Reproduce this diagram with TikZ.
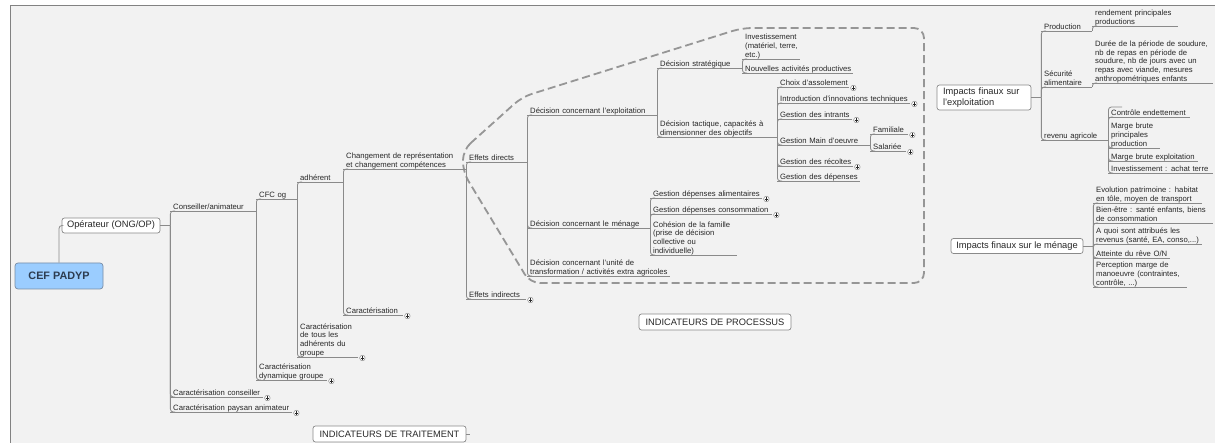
\documentclass[tikz,border=0pt]{standalone}
\usepackage{fontspec}
\setmainfont{Liberation Sans}
\usepackage{xcolor}
\usetikzlibrary{calc}

\definecolor{linegrey}{RGB}{138,138,138}
\definecolor{zonegrey}{RGB}{150,150,150}
\definecolor{textgrey}{RGB}{40,40,40}
\definecolor{bggrey}{RGB}{242,242,242}
\definecolor{framegrey}{RGB}{130,130,130}
\definecolor{rootblue}{RGB}{155,205,255}
\definecolor{rootedge}{RGB}{120,140,165}
\definecolor{roottext}{RGB}{45,60,80}

\newcommand{\topicfont}{\fontsize{7.7}{8.7}\selectfont}
\newcommand{\boxfont}{\fontsize{9.3}{10.3}\selectfont}

\begin{document}
\begin{tikzpicture}[x=1pt, y=-1pt,
    uline/.style={draw=linegrey, line width=0.8pt},
    link/.style={draw=linegrey, line width=0.8pt, rounded corners=3pt},
    zone/.style={draw=zonegrey, line width=1.8pt, dash pattern=on 8pt off 4pt, rounded corners=10pt},
    topic/.style={anchor=south west, inner xsep=0pt, inner ysep=0pt, text width=#1pt, align=left,
        font=\topicfont, text=textgrey, execute at end node={\rule[-1.2pt]{0pt}{1pt}},
        append after command={([xshift=-3pt]\tikzlastnode.south west) edge[uline] (\tikzlastnode.south east)}},
    box/.style={draw=linegrey, fill=white, rounded corners=2.5pt, line width=0.7pt, inner sep=0pt,
        font=\boxfont, text=textgrey},
    rootbox/.style={draw=rootedge, fill=rootblue, rounded corners=3pt, line width=0.7pt,
        minimum width=88pt, minimum height=26pt, font=\bfseries\fontsize{10.8}{12}\selectfont, text=roottext},
    plus/.style={circle, draw=linegrey, fill=white, line width=0.5pt, inner sep=0pt, minimum size=5.5pt,
        path picture={\draw[textgrey, line width=0.5pt]
            ([xshift=-1.6pt]path picture bounding box.center) -- ([xshift=1.6pt]path picture bounding box.center)
            ([yshift=-1.6pt]path picture bounding box.center) -- ([yshift=1.6pt]path picture bounding box.center);}}]

    \fill[white] (0,0) rectangle (1215,443);
    \useasboundingbox (0,0) rectangle (1215,443);
    \fill[bggrey] (10,5) rectangle (1215,443);
    \draw[framegrey, line width=0.8pt] (10,443) -- (10,5) -- (1215,5);

    \draw[zone] (463,150) -- (522,97) -- (742,28) -- (924,28) -- (924,283) -- (530,283) -- (463,172) -- cycle;

    \node[rootbox] (cef) at (59,276) {CEF PADYP};
    \node[box, minimum width=98pt, minimum height=15pt] (op) at (111,225.5) {Opérateur (ONG/OP)};
    \node[box, text width=82pt, inner xsep=6pt, minimum height=25pt, align=left] (impExpl) at (984,97.5) {Impacts finaux sur\\l'exploitation};
    \node[box, minimum width=132pt, minimum height=15pt] (impMen) at (1017,246) {Impacts finaux sur le ménage};
    \node[box, minimum width=152pt, minimum height=16pt] (proc) at (715,322) {INDICATEURS DE PROCESSUS};
    \node[box, minimum width=153pt, minimum height=16pt] (trait) at (389.5,434) {INDICATEURS DE TRAITEMENT};

    \node[topic=83] (cons) at (173,211) {Conseiller/animateur};
    \node[topic=90] (carCons) at (173,397) {Caractérisation conseiller};
    \node[topic=119] (carPay) at (173,412) {Caractérisation paysan animateur};
    \node[topic=38] (cfc) at (259,199) {CFC og};
    \node[topic=68] (carDyn) at (259,380) {Caractérisation\\dynamique groupe};
    \node[topic=43] (adh) at (300,182) {adhérent};
    \node[topic=58] (carTous) at (300,357) {Caractérisation\\de tous les\\adhérents du\\groupe};
    \node[topic=120] (chg) at (346,169) {Changement de représentation\\et changement compétences};
    \node[topic=57] (carAdh) at (346,315) {Caractérisation};
    \node[topic=58] (dir) at (469,162) {Effets directs};
    \node[topic=57] (indir) at (469,299) {Effets indirects};
    \node[topic=127] (expl) at (530,115) {Décision concernant l'exploitation};
    \node[topic=120] (men) at (530,228) {Décision concernant le ménage};
    \node[topic=140] (unite) at (530,276) {Décision concernant l'unité de\\transformation / activités extra agricoles};
    \node[topic=82] (strat) at (660,68) {Décision stratégique};
    \node[topic=117] (tact) at (660,137) {Décision tactique, capacités à\\dimensionner des objectifs};
    \node[topic=55] (invest) at (745,59) {Investissement\\(matériel, terre,\\etc.)};
    \node[topic=108] (nouv) at (745,73) {Nouvelles activités productives};
    \node[topic=69] (assol) at (780,87) {Choix d'assolement};
    \node[topic=130] (innov) at (780,103) {Introduction d'innovations techniques};
    \node[topic=72] (intr) at (780,119) {Gestion des intrants};
    \node[topic=90] (mo) at (780,145) {Gestion Main d'oeuvre};
    \node[topic=35] (fam) at (873,134) {Familiale};
    \node[topic=33] (sal) at (873,151) {Salariée};
    \node[topic=73] (recol) at (780,166) {Gestion des récoltes};
    \node[topic=80] (dep) at (780,181) {Gestion des dépenses};
    \node[topic=109] (alim) at (653,198) {Gestion dépenses alimentaires};
    \node[topic=119] (conso) at (653,214) {Gestion dépenses consommation};
    \node[topic=84] (cohes) at (653,255) {Cohésion de la famille\\(prise de décision\\collective ou\\individuelle)};
    \node[topic=48] (prod) at (1044,31) {Production};
    \node[topic=83] (rend) at (1095,26) {rendement principales\\productions};
    \node[topic=48] (secu) at (1044,87) {Sécurité\\alimentaire};
    \node[topic=118] (duree) at (1095,83) {Durée de la période de soudure,\\nb de repas en période de\\soudure, nb de jours avec un\\repas avec viande, mesures\\anthropométriques enfants};
    \node[topic=64] (rev) at (1044,140) {revenu agricole};
    \node[topic=79] (endet) at (1111,117) {Contrôle endettement};
    \node[topic=49] (mbp) at (1111,148) {Marge brute\\principales\\production};
    \node[topic=87] (mbe) at (1111,161) {Marge brute exploitation};
    \node[topic=102] (achat) at (1111,173) {Investissement : achat terre};
    \node[topic=106] (evol) at (1096,203) {Evolution patrimoine : habitat\\en tôle, moyen de transport};
    \node[topic=117] (bien) at (1096,223) {Bien-être : santé enfants, biens\\de consommation};
    \node[topic=106] (attr) at (1096,244) {A quoi sont attribués les\\revenus (santé, EA, conso,...)};
    \node[topic=74] (reve) at (1096,258) {Atteinte du rêve O/N};
    \node[topic=91] (perc) at (1096,287) {Perception marge de\\manoeuvre (contraintes,\\contrôle, ...)};
    \coordinate (revStub) at (1122,107);

    \node[plus] (carConsP) at ([xshift=4pt,yshift=-1pt]carCons.south east) {};
    \node[plus] (carPayP) at ([xshift=4pt,yshift=-1pt]carPay.south east) {};
    \node[plus] (carDynP) at ([xshift=4pt,yshift=-1pt]carDyn.south east) {};
    \node[plus] (carTousP) at ([xshift=4pt,yshift=-1pt]carTous.south east) {};
    \node[plus] (carAdhP) at ([xshift=4pt,yshift=-1pt]carAdh.south east) {};
    \node[plus] (indirP) at ([xshift=4pt,yshift=-1pt]indir.south east) {};
    \node[plus] (assolP) at ([xshift=4pt,yshift=-1pt]assol.south east) {};
    \node[plus] (innovP) at ([xshift=4pt,yshift=-1pt]innov.south east) {};
    \node[plus] (intrP) at ([xshift=4pt,yshift=-1pt]intr.south east) {};
    \node[plus] (famP) at ([xshift=4pt,yshift=-1pt]fam.south east) {};
    \node[plus] (salP) at ([xshift=4pt,yshift=-1pt]sal.south east) {};
    \node[plus] (recolP) at ([xshift=4pt,yshift=-1pt]recol.south east) {};
    \node[plus] (alimP) at ([xshift=4pt,yshift=-1pt]alim.south east) {};
    \node[plus] (consoP) at ([xshift=4pt,yshift=-1pt]conso.south east) {};

    \draw[link] (cef.north) |- (op.west);
    \draw[link] (op.east) -- ++(10,0) coordinate (opJ);
    \draw[link] (opJ) |- ([xshift=2pt]cons.south west);
    \draw[link] (opJ) |- ([xshift=2pt]carCons.south west);
    \draw[link] (opJ) |- ([xshift=2pt]carPay.south west);

    \draw[link] (cons.south east) |- ([xshift=2pt]cfc.south west);
    \draw[link] (cons.south east) |- ([xshift=2pt]carDyn.south west);
    \draw[link] (cfc.south east) |- ([xshift=2pt]adh.south west);
    \draw[link] (cfc.south east) |- ([xshift=2pt]carTous.south west);
    \draw[link] (adh.south east) |- ([xshift=2pt]chg.south west);
    \draw[link] (adh.south east) |- ([xshift=2pt]carAdh.south west);
    \draw[link] (chg.south east) |- ([xshift=2pt]dir.south west);
    \draw[link] (chg.south east) |- ([xshift=2pt]indir.south west);

    \draw[link] (dir.south east) |- ([xshift=2pt]expl.south west);
    \draw[link] (dir.south east) |- ([xshift=2pt]men.south west);
    \draw[link] (dir.south east) |- ([xshift=2pt]unite.south west);
    \draw[link] (expl.south east) |- ([xshift=2pt]strat.south west);
    \draw[link] (expl.south east) |- ([xshift=2pt]tact.south west);
    \draw[link] (strat.south east) |- ([xshift=2pt]invest.south west);
    \draw[link] (strat.south east) |- ([xshift=2pt]nouv.south west);
    \draw[link] (tact.south east) |- ([xshift=2pt]assol.south west);
    \draw[link] (tact.south east) |- ([xshift=2pt]innov.south west);
    \draw[link] (tact.south east) |- ([xshift=2pt]intr.south west);
    \draw[link] (tact.south east) |- ([xshift=2pt]mo.south west);
    \draw[link] (tact.south east) |- ([xshift=2pt]recol.south west);
    \draw[link] (tact.south east) |- ([xshift=2pt]dep.south west);
    \draw[link] (mo.south east) |- ([xshift=2pt]fam.south west);
    \draw[link] (mo.south east) |- ([xshift=2pt]sal.south west);
    \draw[link] (men.south east) |- ([xshift=2pt]alim.south west);
    \draw[link] (men.south east) |- ([xshift=2pt]conso.south west);
    \draw[link] (men.south east) |- ([xshift=2pt]cohes.south west);

    \draw[link] (impExpl.east) -- ++(10,0) coordinate (explJ);
    \draw[link] (explJ) |- ([xshift=2pt]prod.south west);
    \draw[link] (explJ) |- ([xshift=2pt]secu.south west);
    \draw[link] (explJ) |- ([xshift=2pt]rev.south west);
    \draw[link] (prod.south east) |- ([xshift=2pt]rend.south west);
    \draw[link] (secu.south east) |- ([xshift=2pt]duree.south west);
    \draw[link] (rev.south east) |- (revStub);
    \draw[link] (rev.south east) |- ([xshift=2pt]endet.south west);
    \draw[link] (rev.south east) |- ([xshift=2pt]mbp.south west);
    \draw[link] (rev.south east) |- ([xshift=2pt]mbe.south west);
    \draw[link] (rev.south east) |- ([xshift=2pt]achat.south west);

    \draw[link] (impMen.east) -- ++(10,0) coordinate (menJ);
    \draw[link] (menJ) |- ([xshift=2pt]evol.south west);
    \draw[link] (menJ) |- ([xshift=2pt]bien.south west);
    \draw[link] (menJ) |- ([xshift=2pt]attr.south west);
    \draw[link] (menJ) |- ([xshift=2pt]reve.south west);
    \draw[link] (menJ) |- ([xshift=2pt]perc.south west);

    \draw[link] (trait.east) -- ++(4,0);
\end{tikzpicture}
\end{document}
